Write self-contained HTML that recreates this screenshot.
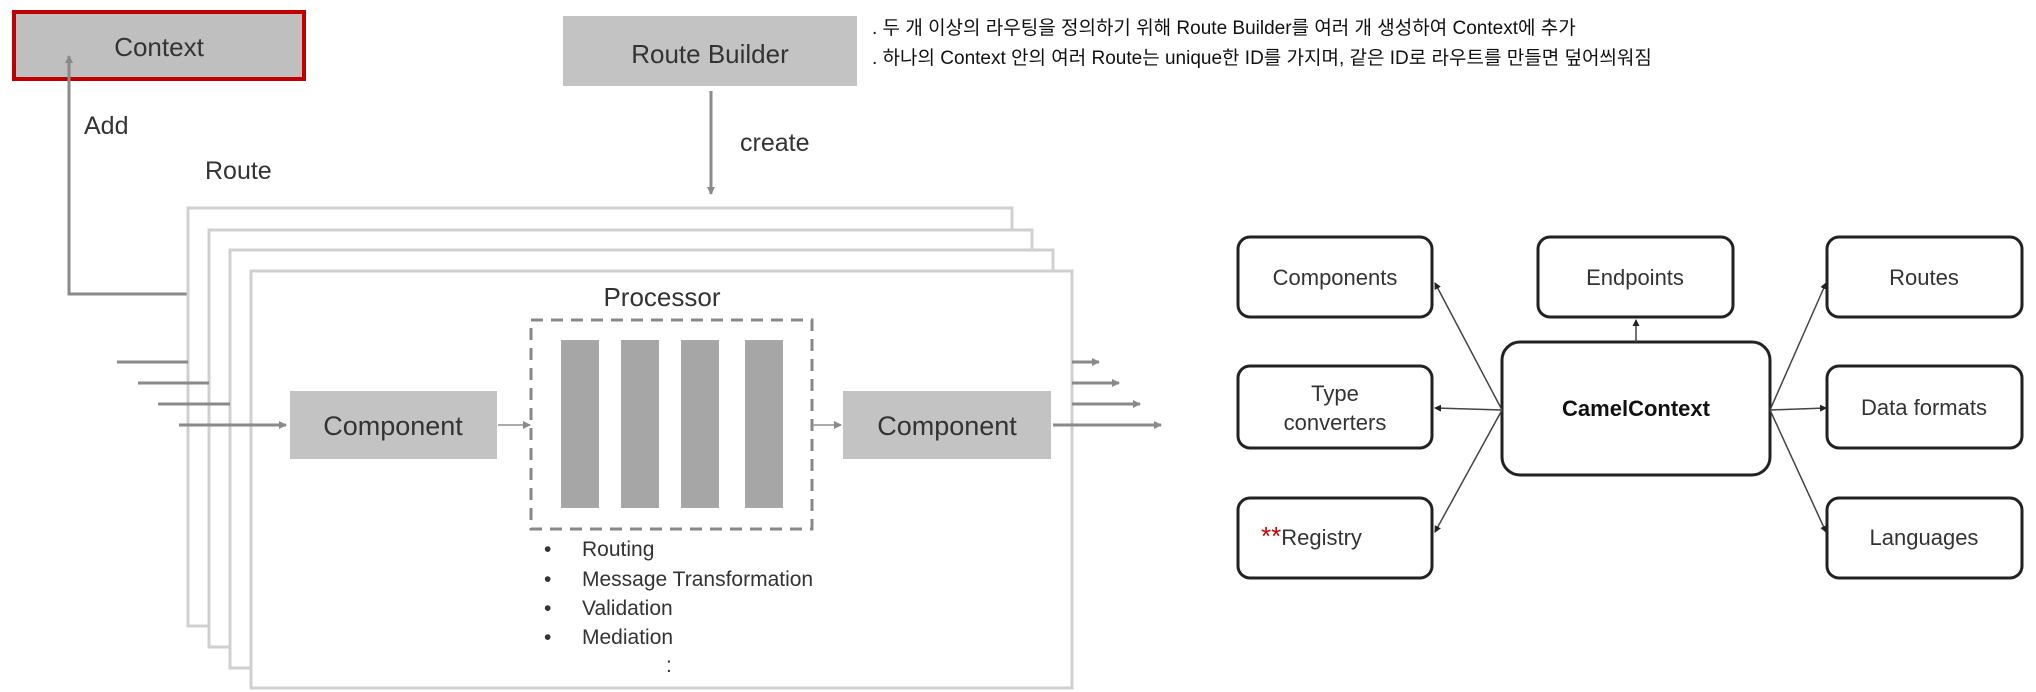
<!DOCTYPE html>
<html><head><meta charset="utf-8"><style>
html,body{margin:0;padding:0;background:#fff;width:2036px;height:692px;overflow:hidden}
svg{display:block}
text{font-family:"Liberation Sans","Noto Sans CJK KR",sans-serif}
</style></head><body>
<svg width="2036" height="692" viewBox="0 0 2036 692" xmlns="http://www.w3.org/2000/svg">
<defs>
<marker id="ag" markerWidth="8" markerHeight="8" refX="7" refY="4" orient="auto" markerUnits="userSpaceOnUse"><path d="M0,0 L8,4 L0,8 z" fill="#8a8a8a"/></marker>
<marker id="ab" markerWidth="7" markerHeight="7" refX="6" refY="3.5" orient="auto" markerUnits="userSpaceOnUse"><path d="M0,0 L7,3.5 L0,7 z" fill="#222"/></marker>
</defs>
<!-- Context -->
<rect x="14" y="12" width="290" height="67" fill="#bfbfbf" stroke="#c00000" stroke-width="4"/>
<text x="159" y="56" font-size="26" text-anchor="middle" fill="#333">Context</text>
<!-- Route builder -->
<rect x="563" y="16" width="294" height="70" fill="#c3c3c3"/>
<text x="710" y="63" font-size="26" text-anchor="middle" fill="#333">Route Builder</text>
<text x="872" y="34" font-size="19" fill="#111">. 두 개 이상의 라우팅을 정의하기 위해 Route Builder를 여러 개 생성하여 Context에 추가</text>
<text x="872" y="64" font-size="19" fill="#111">. 하나의 Context 안의 여러 Route는 unique한 ID를 가지며, 같은 ID로 라우트를 만들면 덮어씌워짐</text>
<!-- Add -->
<path d="M190,294 L69,294 L69,56" fill="none" stroke="#8a8a8a" stroke-width="3" marker-end="url(#ag)"/>
<text x="84" y="134" font-size="25" fill="#333">Add</text>
<text x="205" y="179" font-size="25" fill="#333">Route</text>
<!-- create -->
<line x1="711" y1="91" x2="711" y2="194" stroke="#8a8a8a" stroke-width="3" marker-end="url(#ag)"/>
<text x="740" y="151" font-size="25" fill="#333">create</text>
<!-- route stack -->
<g fill="#fff" stroke="#d0d0d0" stroke-width="3">
<rect x="188" y="208" width="824" height="418"/>
<rect x="209" y="230" width="823" height="417"/>
<rect x="230" y="250" width="823" height="418"/>
<rect x="251" y="271" width="821" height="417"/>
</g>
<!-- inputs -->
<g stroke="#8a8a8a" stroke-width="3">
<line x1="117" y1="362" x2="188" y2="362"/>
<line x1="138" y1="383" x2="209" y2="383"/>
<line x1="158" y1="404" x2="230" y2="404"/>
<line x1="179" y1="425" x2="286" y2="425" marker-end="url(#ag)"/>
<line x1="1072" y1="362" x2="1099" y2="362" marker-end="url(#ag)"/>
<line x1="1072" y1="383" x2="1119" y2="383" marker-end="url(#ag)"/>
<line x1="1072" y1="404" x2="1140" y2="404" marker-end="url(#ag)"/>
<line x1="1053" y1="425" x2="1161" y2="425" marker-end="url(#ag)"/>
</g>
<text x="662" y="306" font-size="26" text-anchor="middle" fill="#333">Processor</text>
<rect x="531" y="320" width="281" height="209" fill="none" stroke="#888" stroke-width="3" stroke-dasharray="12,8"/>
<g fill="#a6a6a6">
<rect x="561" y="340" width="38" height="168"/>
<rect x="621" y="340" width="38" height="168"/>
<rect x="681" y="340" width="38" height="168"/>
<rect x="745" y="340" width="38" height="168"/>
</g>
<rect x="290" y="391" width="207" height="68" fill="#c3c3c3"/>
<text x="393" y="435" font-size="27" text-anchor="middle" fill="#333">Component</text>
<rect x="843" y="391" width="208" height="68" fill="#c3c3c3"/>
<text x="947" y="435" font-size="27" text-anchor="middle" fill="#333">Component</text>
<g stroke="#aaa" stroke-width="2">
<line x1="498" y1="425" x2="530" y2="425" marker-end="url(#ag)"/>
<line x1="813" y1="425" x2="841" y2="425" marker-end="url(#ag)"/>
</g>
<g font-size="21" fill="#333">
<text x="544" y="556">•</text><text x="582" y="556">Routing</text>
<text x="544" y="586">•</text><text x="582" y="586">Message Transformation</text>
<text x="544" y="615">•</text><text x="582" y="615">Validation</text>
<text x="544" y="644">•</text><text x="582" y="644">Mediation</text>
<text x="666" y="672">:</text>
</g>
<!-- right diagram -->
<g fill="#fff" stroke="#222" stroke-width="3">
<rect x="1238" y="237" width="194" height="80" rx="12"/>
<rect x="1538" y="237" width="195" height="80" rx="12"/>
<rect x="1827" y="237" width="195" height="80" rx="12"/>
<rect x="1238" y="366" width="194" height="82" rx="12"/>
<rect x="1827" y="366" width="195" height="82" rx="12"/>
<rect x="1238" y="498" width="194" height="80" rx="12"/>
<rect x="1827" y="498" width="195" height="80" rx="12"/>
<rect x="1502" y="342" width="268" height="133" rx="18"/>
</g>
<g stroke="#444" stroke-width="1.5">
<line x1="1502" y1="410" x2="1435" y2="283" marker-end="url(#ab)"/>
<line x1="1502" y1="410" x2="1435" y2="408" marker-end="url(#ab)"/>
<line x1="1502" y1="410" x2="1435" y2="532" marker-end="url(#ab)"/>
<line x1="1636" y1="342" x2="1636" y2="320" marker-end="url(#ab)"/>
<line x1="1770" y1="410" x2="1826" y2="283" marker-end="url(#ab)"/>
<line x1="1770" y1="410" x2="1826" y2="408" marker-end="url(#ab)"/>
<line x1="1770" y1="410" x2="1826" y2="532" marker-end="url(#ab)"/>
</g>
<g font-size="22" fill="#333" text-anchor="middle">
<text x="1335" y="285">Components</text>
<text x="1635" y="285">Endpoints</text>
<text x="1924" y="285">Routes</text>
<text x="1335" y="401">Type</text>
<text x="1335" y="430">converters</text>
<text x="1924" y="415">Data formats</text>
<text x="1924" y="545">Languages</text>
<text x="1636" y="416" font-weight="bold" fill="#111">CamelContext</text>
</g>
<text x="1261" y="545" font-size="22" fill="#333"><tspan fill="#c00000" font-size="26">**</tspan>Registry</text>
</svg>
</body></html>
